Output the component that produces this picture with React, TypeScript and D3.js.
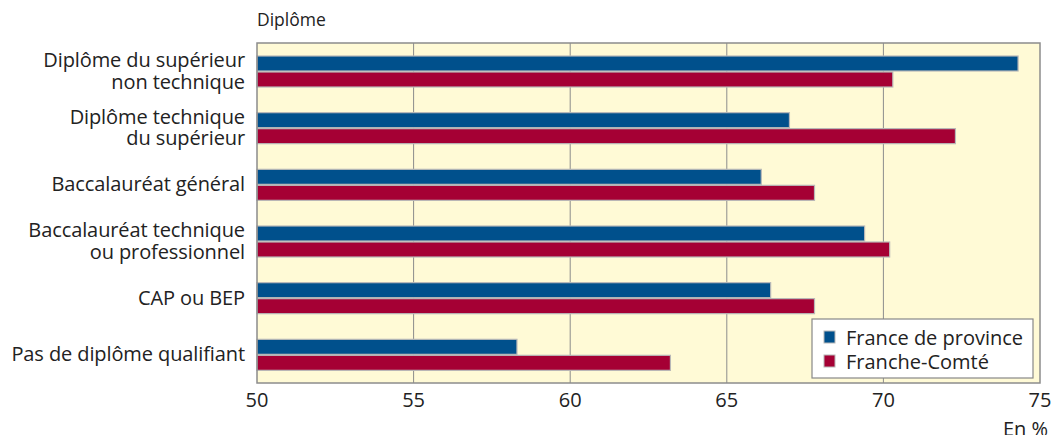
import React from "react";
import * as d3 from "d3";

const categories: string[][] = [
  ["Diplôme du supérieur", "non technique"],
  ["Diplôme technique", "du supérieur"],
  ["Baccalauréat général"],
  ["Baccalauréat technique", "ou professionnel"],
  ["CAP ou BEP"],
  ["Pas de diplôme qualifiant"],
];
const franceProvince = [74.3, 67.0, 66.1, 69.4, 66.4, 58.3];
const francheComte = [70.3, 72.3, 67.8, 70.2, 67.8, 63.2];
const seriesNames = ["France de province", "Franche-Comté"];
const xTicks = [50, 55, 60, 65, 70, 75];

const W = 1053;
const H = 435;
const left = 257;
const right = 1040;
const top = 43;
const bottom = 383;
const BLUE = "#00508c";
const RED = "#a50034";
const BG = "#fffad6";
const FONT = "'Open Sans', Lato, sans-serif";

export default function App() {
  const x = d3.scaleLinear().domain([50, 75]).range([left, right]);
  const y = d3
    .scaleBand<number>()
    .domain(d3.range(categories.length))
    .range([top, bottom]);
  const step = y.step();
  const barH = 15;
  const padTop = 13;
  return (
    <svg
      width={W}
      height={H}
      style={{ position: "absolute", left: 0, top: 0 }}
      fontFamily={FONT}
    >
      <rect x={left} y={top} width={right - left} height={bottom - top} fill={BG} />
      {xTicks.slice(1, -1).map((t) => (
        <line key={t} x1={x(t)} x2={x(t)} y1={top} y2={bottom} stroke="#8c8c8c" strokeWidth={1} />
      ))}
      {categories.map((c, i) => {
        const y0 = (y(i) as number) + padTop;
        return (
          <g key={i}>
            <rect x={x(50)} y={y0} width={x(franceProvince[i]) - x(50)} height={barH} fill={BLUE} stroke="#b8b8b8" strokeWidth={1.2} />
            <rect x={x(50)} y={y0 + barH + 1} width={x(francheComte[i]) - x(50)} height={barH} fill={RED} stroke="#b8b8b8" strokeWidth={1.2} />
            {c.map((line, j) => (
              <text
                key={j}
                x={245}
                y={(y(i) as number) + step / 2 + 6.5 + (j - (c.length - 1) / 2) * 21.5}
                textAnchor="end"
                fontSize={20}
                letterSpacing={-0.1}
                fill="#222"
              >
                {line}
              </text>
            ))}
          </g>
        );
      })}
      <rect x={left} y={top} width={right - left} height={bottom - top} fill="none" stroke="#8c8c8c" strokeWidth={1.5} />
      {xTicks.map((t) => (
        <text key={t} x={x(t)} y={406.5} textAnchor="middle" fontSize={20} fill="#222">
          {t}
        </text>
      ))}
      <text x={1048} y={436} textAnchor="end" fontSize={20} fill="#222">En %</text>
      <text x={257} y={26} fontSize={17.5} fill="#222">Diplôme</text>
      <g>
        <rect x={812} y={319} width={221} height={59} fill="#fff" stroke="#888" strokeWidth={1.2} />
        {seriesNames.map((s, i) => (
          <g key={s}>
            <rect x={824} y={331 + i * 24} width={11} height={12} fill={i === 0 ? BLUE : RED} stroke="#b8b8b8" strokeWidth={1} />
            <text x={846} y={345 + i * 24} fontSize={20} fill="#222">{s}</text>
          </g>
        ))}
      </g>
    </svg>
  );
}
